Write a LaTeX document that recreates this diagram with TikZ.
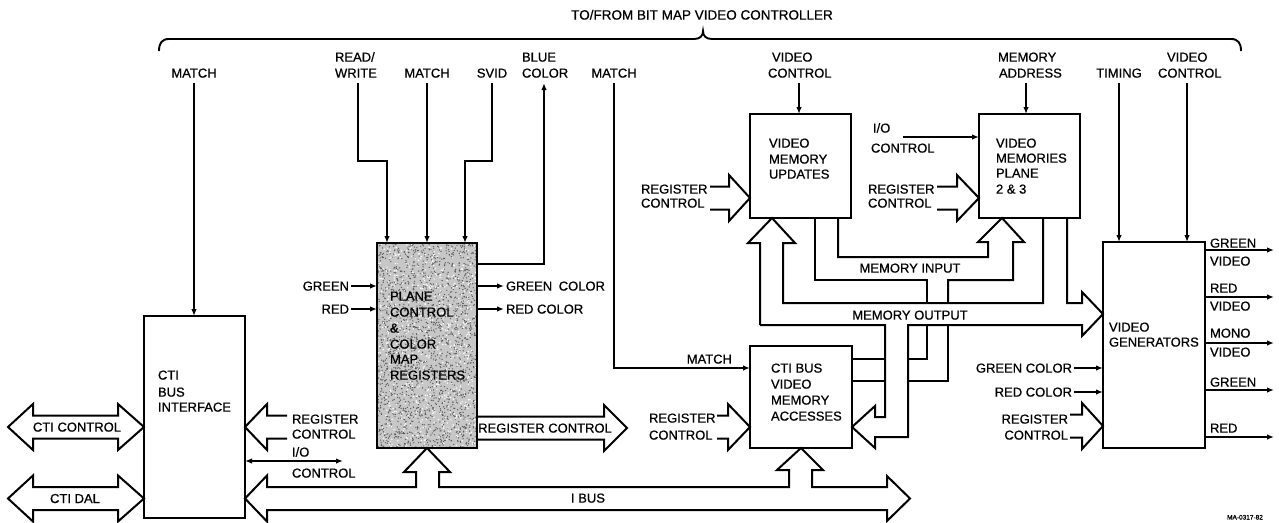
\documentclass[tikz,border=0pt]{standalone}
\usepackage{fontspec}
\setmainfont{Liberation Sans}[FakeBold=0.7]
\usetikzlibrary{arrows.meta}
\begin{document}
\begin{tikzpicture}[x=1pt,y=-1pt,
  every node/.style={inner sep=0pt, outer sep=0pt},
  lab/.style={font=\fontsize{13}{15}\selectfont},
  lbw/.style={lab, anchor=base west},
  lbe/.style={lab, anchor=base east},
  lbc/.style={lab, anchor=base},
  box/.style={draw, line width=2.4pt, rectangle, anchor=north west},
  wire/.style={line width=1.9pt},
  sig/.style={wire, -{Latex[length=7pt,width=5.5pt]}},
  bus/.style={line width=2pt, line join=miter},
]
\fill[white] (0,0) rectangle (1279,522);
\useasboundingbox (0,0) rectangle (1279,522);

% stipple of the plane control box
\begin{scope}
\clip (377,243) rectangle (477,448);
\fill[black!22] (377,243) rectangle (477,448);
\pgfmathsetseed{12}
\foreach \i in {1,...,2000}{\fill[black!65] ({377+100*rnd},{243+205*rnd}) circle[radius=0.7pt];}
\foreach \i in {1,...,700}{\fill[white] ({377+100*rnd},{243+205*rnd}) circle[radius=0.8pt];}
\end{scope}

% boxes
\node[box, minimum width=101pt, minimum height=202pt] (cti) at (144,316) {};
\node[box, minimum width=100pt, minimum height=205pt] (pcm) at (377,243) {};
\node[box, minimum width=101pt, minimum height=104pt] (vmu) at (750,114) {};
\node[box, minimum width=101pt, minimum height=104pt] (vmp) at (979,114) {};
\node[box, minimum width=102pt, minimum height=102pt] (vma) at (750,346) {};
\node[box, minimum width=102pt, minimum height=206pt] (vg) at (1103,242) {};

% brace and title
\draw[wire] (159,51) .. controls (159,43) and (162,39) .. (169,39) -- (694,39)
  .. controls (700,39) and (703,36) .. (703,31)
  .. controls (703,36) and (706,39) .. (712,39) -- (1231,39)
  .. controls (1238,39) and (1241,43) .. (1241,51);
\node[lab, font=\fontsize{13.5}{15}\selectfont, anchor=base] (title) at (702,19.6) {TO/FROM BIT MAP VIDEO CONTROLLER};

% top labels
\node[lbc] (mL) at (194,77.6) {MATCH};
\node[lbw] (rw1) at (335,61.6) {READ/};
\node[lbw] (rw2) at (335,77.6) {WRITE};
\node[lbc] (mM) at (427,77.6) {MATCH};
\node[lbc] (sv) at (492,77.6) {SVID};
\node[lbw] (bc1) at (522,61.6) {BLUE};
\node[lbw] (bc2) at (522,77.6) {COLOR};
\node[lbc] (mR) at (614,77.6) {MATCH};
\node[lbw] (vc1) at (772,61.6) {VIDEO};
\node[lbw] (vc2) at (768,77.6) {CONTROL};
\node[lbw] (ma1) at (998,61.6) {MEMORY};
\node[lbw] (ma2) at (999,77.6) {ADDRESS};
\node[lbc] (tm) at (1119,77.6) {TIMING};
\node[lbw] (vc3) at (1167,61.6) {VIDEO};
\node[lbw] (vc4) at (1158,77.6) {CONTROL};

% top signals
\draw[sig] (194,83) -- (194,0 |- cti.north);
\draw[sig] (358,83) -- (358,161) -- (387,161) -- (387,0 |- pcm.north);
\draw[sig] (427,83) -- (427,0 |- pcm.north);
\draw[sig] (492,83) -- (492,161) -- (465,161) -- (465,0 |- pcm.north);
\draw[sig] (pcm.east |- 0,264) -- (544,264) -- (544,83);
\draw[sig] (614,83) -- (614,368) -- (vma.west |- 0,368);
\draw[sig] (799,83) -- (799,0 |- vmu.north);
\draw[sig] (1026,83) -- (1026,0 |- vmp.north);
\draw[sig] (1119,83) -- (1119,0 |- vg.north);
\draw[sig] (1187,83) -- (1187,0 |- vg.north);

% CTI bus interface
\node[lbw] (ct1) at (158,379.6) {CTI};
\node[lbw] (ct2) at (158,396.6) {BUS};
\node[lbw] (ct3) at (158,411.6) {INTERFACE};
\draw[bus] (8,427) -- (33,404) -- (33,415.5) -- (118,415.5) -- (118,404) -- (cti.west |- 0,427)
  -- (118,450) -- (118,438.5) -- (33,438.5) -- (33,450) -- cycle;
\node[lbc] (ctic) at (77,431.6) {CTI CONTROL};
\draw[bus] (8,498.5) -- (33,475.5) -- (33,487) -- (118,487) -- (118,475.5) -- (cti.west |- 0,498.5)
  -- (118,521.5) -- (118,510) -- (33,510) -- (33,521.5) -- cycle;
\node[lbc] (ctid) at (75,503) {CTI DAL};
\draw[bus] (287,415.5) -- (267,415.5) -- (267,404) -- (cti.east |- 0,427) -- (267,450) -- (267,438.5) -- (287,438.5);
\node[lbw] (rc1) at (292,423.6) {REGISTER};
\node[lbw] (rc2) at (292,438.6) {CONTROL};
\draw[wire, {Latex[length=7pt,width=5.5pt]}-{Latex[length=7pt,width=5.5pt]}] (cti.east |- 0,461) -- (343,461);
\node[lbw] (io1) at (292,456.6) {I/O};
\node[lbw] (io2) at (292,477.6) {CONTROL};

% I bus
\draw[bus] (267,487) -- (416,487) -- (416,472) -- (404,472) -- (pcm.south) -- (450,472) -- (439,472)
  -- (439,487) -- (789,487) -- (789,470) -- (777,470) -- (vma.south) -- (823,470) -- (812,470)
  -- (812,487) -- (887,487) -- (887,476) -- (910,498.5) -- (887,521) -- (887,510)
  -- (267,510) -- (267,521.5) -- (cti.east |- 0,498.5) -- (267,475.5) -- cycle;
\node[lbc] (ibus) at (588,502.6) {I BUS};

% plane control box
\node[lbw] (p1) at (390,300.6) {PLANE};
\node[lbw] (p2) at (390,316.6) {CONTROL};
\node[lbw] (p3) at (390,332.6) {\&};
\node[lbw] (p4) at (390,348.6) {COLOR};
\node[lbw] (p5) at (390,363.6) {MAP};
\node[lbw] (p6) at (390,379.6) {REGISTERS};
\node[lbe] (gin) at (349,290.6) {GREEN};
\node[lbe] (rin) at (349,313.6) {RED};
\draw[sig] (351,286) -- (pcm.west |- 0,286);
\draw[sig] (351,309) -- (pcm.west |- 0,309);
\draw[sig] (pcm.east |- 0,286) -- (504,286);
\draw[sig] (pcm.east |- 0,309) -- (504,309);
\node[lbw] (gco) at (506,290.6) {GREEN\hspace{0.5em}COLOR};
\node[lbw] (rco) at (506,313.6) {RED COLOR};
\draw[bus] (pcm.east |- 0,416.5) -- (604,416.5) -- (604,405) -- (627,428) -- (604,451) -- (604,439.5) -- (pcm.east |- 0,439.5);
\node[lbc] (prc) at (545,432.6) {REGISTER CONTROL};

% video memory updates
\node[lbw] (u1) at (769,147.6) {VIDEO};
\node[lbw] (u2) at (769,163.6) {MEMORY};
\node[lbw] (u3) at (769,178.6) {UPDATES};
\draw[bus] (710,186.5) -- (729,186.5) -- (729,175) -- (vmu.west |- 0,198) -- (729,221) -- (729,209.5) -- (710,209.5);
\node[lbw] (urc1) at (641,193.6) {REGISTER};
\node[lbw] (urc2) at (641,207.6) {CONTROL};

% video memories plane 2 & 3
\node[lbw] (m1) at (996,147.6) {VIDEO};
\node[lbw] (m2) at (996,162.6) {MEMORIES};
\node[lbw] (m3) at (996,177.6) {PLANE};
\node[lbw] (m4) at (996,193.6) {2 \& 3};
\node[lbw] (mio1) at (873,132.6) {I/O};
\node[lbw] (mio2) at (871,152.6) {CONTROL};
\draw[sig] (903,137) -- (vmp.west |- 0,137);
\draw[bus] (937,186.5) -- (957,186.5) -- (957,175) -- (vmp.west |- 0,198) -- (957,221) -- (957,209.5) -- (937,209.5);
\node[lbw] (mrc1) at (868,193.6) {REGISTER};
\node[lbw] (mrc2) at (868,207.6) {CONTROL};

% CTI bus video memory accesses
\node[lbw] (a1) at (771,372.6) {CTI BUS};
\node[lbw] (a2) at (771,388.6) {VIDEO};
\node[lbw] (a3) at (771,404.6) {MEMORY};
\node[lbw] (a4) at (771,420.6) {ACCESSES};
\node[lbe] (amatch) at (732,363.6) {MATCH};
\draw[bus] (717,415.5) -- (728,415.5) -- (728,404) -- (vma.west |- 0,427) -- (728,450) -- (728,438.5) -- (717,438.5);
\node[lbw] (arc1) at (649,422.6) {REGISTER};
\node[lbw] (arc2) at (649,439.6) {CONTROL};

% memory buses
\draw[bus] (760,325) -- (760,243) -- (748,243) -- (vmu.south -| 772,0) -- (795,243) -- (783,243)
  -- (783,303) -- (1043,303) -- (1043,0 |- vmp.south);
\draw[bus] (760,325) -- (885,325) -- (885,417) -- (875,417) -- (875,406) -- (vma.east |- 0,427)
  -- (875,448) -- (875,437) -- (908,437) -- (908,325) -- (1082,325) -- (1082,336)
  -- (vg.west |- 0,314) -- (1082,292) -- (1082,303) -- (1067,303) -- (1067,0 |- vmp.south);
\draw[bus] (838,0 |- vmu.south) -- (838,257) -- (988,257) -- (988,242) -- (978,242) -- (vmp.south -| 1002,0)
  -- (1024,242) -- (1013,242) -- (1013,280) -- (948,280) -- (948,303);
\draw[bus] (815,0 |- vmu.south) -- (815,280) -- (927,280) -- (927,303);
\draw[bus] (vma.east |- 0,359) -- (885,359);
\draw[bus] (908,359) -- (927,359) -- (927,325);
\draw[bus] (vma.east |- 0,381) -- (885,381);
\draw[bus] (908,381) -- (948,381) -- (948,325);
\node[lbc, fill=white, inner xsep=1pt] (minp) at (910,272.6) {MEMORY INPUT};
\node[lbc, fill=white, inner xsep=1pt] (mout) at (910,319.6) {MEMORY OUTPUT};

% video generators
\node[lbw] (g1) at (1109,331.6) {VIDEO};
\node[lbw] (g2) at (1109,346.6) {GENERATORS};
\draw[sig] (1074,368) -- (vg.west |- 0,368);
\draw[sig] (1074,392) -- (vg.west |- 0,392);
\node[lbe] (ggc) at (1072,372.6) {GREEN COLOR};
\node[lbe] (grc) at (1072,396.6) {RED COLOR};
\draw[bus] (1070,414.5) -- (1082,414.5) -- (1082,403) -- (vg.west |- 0,426) -- (1082,449) -- (1082,437.5) -- (1070,437.5);
\node[lbe] (grc1) at (1068,423.6) {REGISTER};
\node[lbe] (grc2) at (1068,439.6) {CONTROL};
\foreach \yy in {250,297,343,390,437}{\draw[sig] (vg.east |- 0,\yy) -- (1274,\yy);}
\node[lbw] (o1) at (1210,247.6) {GREEN};
\node[lbw] (o2) at (1210,265.6) {VIDEO};
\node[lbw] (o3) at (1210,292.6) {RED};
\node[lbw] (o4) at (1210,310.6) {VIDEO};
\node[lbw] (o5) at (1210,337.6) {MONO};
\node[lbw] (o6) at (1210,356.6) {VIDEO};
\node[lbw] (o7) at (1210,386.6) {GREEN};
\node[lbw] (o8) at (1210,432.6) {RED};

\node[font=\fontsize{6.5}{7}\selectfont, anchor=base] (ma) at (1245,519.5) {MA-0317-82};
\end{tikzpicture}
\end{document}
